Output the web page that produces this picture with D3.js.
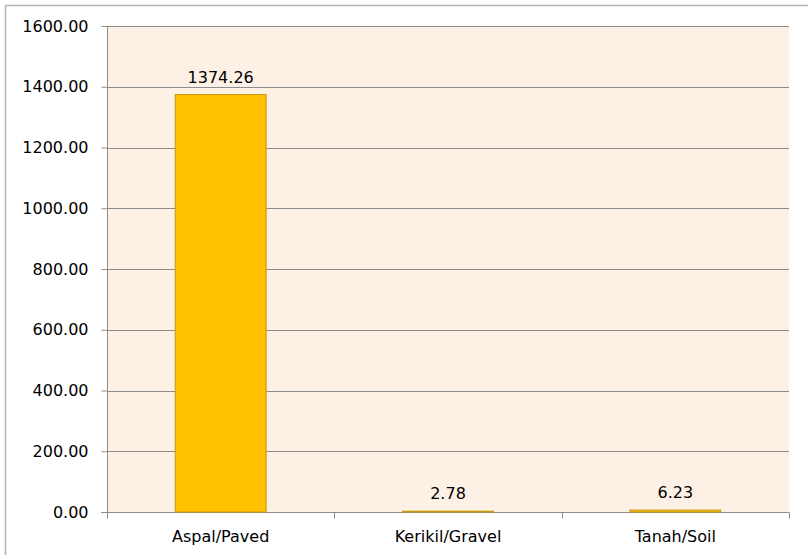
<!DOCTYPE html>
<meta charset="utf-8">
<script src="https://d3js.org/d3.v7.min.js"></script>
<style>
  body { margin: 0; background: #fff; overflow: hidden; }
  svg { display: block; overflow: hidden; }
  text { font-family: 'DejaVu Sans', sans-serif; }
</style>
<div id="chart"></div>
<script>
  // data
  const categories = ["Aspal/Paved", "Kerikil/Gravel", "Tanah/Soil"];
  const values = [1374.26, 2.78, 6.23];
  const yTicks = [0, 200, 400, 600, 800, 1000, 1200, 1400, 1600];

  const W = 808, H = 555;
  const margin = {top: 26, right: 19, bottom: 43, left: 107};
  const width = W - margin.left - margin.right,
        height = H - margin.top - margin.bottom;
  const fontSize = "16px";

  const svg = d3.select("#chart").append("svg")
    .attr("width", W).attr("height", H);

  // outer frame
  svg.append("rect")
    .attr("x", 5.5).attr("y", 5.5)
    .attr("width", W + 10).attr("height", H + 10)
    .attr("fill", "none").attr("stroke", "#b3b3b3").attr("stroke-width", 1.5);

  const g = svg.append("g").attr("transform", `translate(${margin.left},${margin.top})`);

  const x = d3.scaleBand().domain(categories).range([0, width]).paddingInner(0.6).paddingOuter(0.3);
  const y = d3.scaleLinear().domain([0, 1600]).range([height, 0]);

  // plot background
  g.append("rect").attr("width", width).attr("height", height).attr("fill", "#fdf1e6");

  // grid lines
  g.append("g").selectAll("line").data(yTicks.filter(d => d > 0)).join("line")
    .attr("x1", 0).attr("x2", width)
    .attr("y1", d => Math.round(y(d)) + 0.5).attr("y2", d => Math.round(y(d)) + 0.5)
    .attr("stroke", "#8c8c8c");

  // y axis
  const yAxis = g.append("g").attr("transform", "translate(0.5,0)")
    .call(d3.axisLeft(y).tickValues(yTicks).tickFormat(d3.format(".2f")).tickSize(6).tickPadding(13))
    .attr("font-family", null).attr("font-size", null);
  yAxis.select(".domain").attr("stroke", "#8c8c8c").attr("d", `M0,0V${height}`);
  yAxis.selectAll(".tick line").attr("stroke", "#8c8c8c");
  yAxis.selectAll(".tick text").attr("fill", "#000").style("font-size", fontSize);

  // x axis with ticks at category boundaries
  const xAxisG = g.append("g").attr("transform", `translate(0,${Math.round(height) + 0.5})`);
  xAxisG.append("line").attr("x1", -6).attr("x2", width).attr("stroke", "#8c8c8c");
  const step = width / categories.length;
  xAxisG.selectAll("line.tk").data(d3.range(categories.length + 1)).join("line")
    .attr("class", "tk")
    .attr("x1", i => Math.round(i * step) + 0.5).attr("x2", i => Math.round(i * step) + 0.5)
    .attr("y1", 0).attr("y2", 6).attr("stroke", "#8c8c8c");
  xAxisG.selectAll("text").data(categories).join("text")
    .attr("x", d => x(d) + x.bandwidth() / 2).attr("y", 29)
    .attr("text-anchor", "middle").style("font-size", fontSize).attr("fill", "#000")
    .text(d => d);

  // bars
  g.selectAll("rect.bar").data(values).join("rect")
    .attr("class", "bar")
    .attr("x", (d, i) => x(categories[i]))
    .attr("y", d => y(d))
    .attr("width", x.bandwidth())
    .attr("height", d => height - y(d))
    .attr("fill", "#ffc000").attr("stroke", "#c99a10").attr("stroke-width", 1);

  // value labels
  g.selectAll("text.val").data(values).join("text")
    .attr("class", "val")
    .attr("x", (d, i) => x(categories[i]) + x.bandwidth() / 2)
    .attr("y", d => y(d) - 12)
    .attr("text-anchor", "middle").style("font-size", fontSize).attr("fill", "#000")
    .text(d => d.toFixed(2));
</script>
